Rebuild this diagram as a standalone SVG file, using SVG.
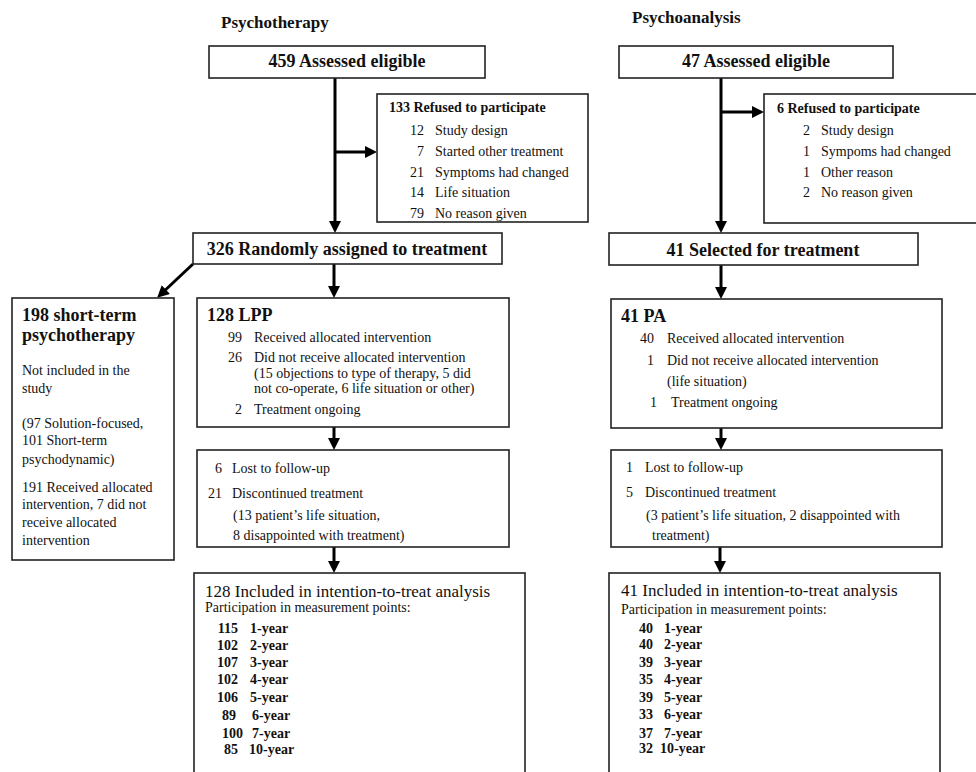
<svg xmlns="http://www.w3.org/2000/svg" width="976" height="772" viewBox="0 0 976 772">
<defs>
<marker id="ah" viewBox="0 0 12 12" markerWidth="12" markerHeight="12" refX="8" refY="6" orient="auto" markerUnits="userSpaceOnUse">
<path d="M0,0 L12,6 L0,12 z" fill="#000"/>
</marker>
<style>
text{font-family:"Liberation Serif","Times New Roman",serif;fill:#111}
.box{fill:#fff;stroke:#222;stroke-width:1.6}
.t{font-size:17px;font-weight:bold}
.h{font-size:18px;font-weight:bold}
.hs{font-size:14px;font-weight:bold}
.b{font-size:14px}
.it{font-size:17px}
.y{font-size:14px;font-weight:bold}
.n{text-anchor:end}
.c{text-anchor:middle}
.ln{stroke:#000;stroke-width:3;fill:none}
.ar{stroke:#000;stroke-width:3;fill:none;marker-end:url(#ah)}
</style>
</defs>
<rect width="976" height="772" fill="#fff"/>

<text class="t" x="221" y="28">Psychotherapy</text>
<text class="t" x="632" y="23">Psychoanalysis</text>

<g id="connectors">
<line class="ln" x1="335" y1="78" x2="335" y2="152"/>
<line class="ar" x1="335" y1="152" x2="335" y2="229"/>
<line class="ar" x1="335" y1="152" x2="373" y2="152"/>
<line class="ar" x1="193" y1="264" x2="160" y2="295"/>
<line class="ar" x1="334" y1="264" x2="334" y2="294"/>
<line class="ar" x1="334" y1="427" x2="334" y2="446"/>
<line class="ar" x1="334" y1="547" x2="334" y2="569"/>
<line class="ln" x1="721" y1="78" x2="721" y2="112"/>
<line class="ar" x1="721" y1="112" x2="721" y2="229"/>
<line class="ar" x1="721" y1="112" x2="760" y2="112"/>
<line class="ar" x1="721" y1="265" x2="721" y2="295"/>
<line class="ar" x1="721" y1="428" x2="721" y2="446"/>
<line class="ar" x1="720" y1="547" x2="720" y2="569"/>
</g>

<g id="pt-eligible">
<rect class="box" x="209" y="46" width="276" height="32"/>
<text class="h c" x="347" y="67">459 Assessed eligible</text>
</g>

<g id="pt-refused">
<rect class="box" x="377" y="94" width="211" height="128"/>
<text class="hs" x="389" y="112">133 Refused to participate</text>
<text class="b n" x="424" y="135">12</text><text class="b" x="435" y="135">Study design</text>
<text class="b n" x="424" y="156">7</text><text class="b" x="435" y="156">Started other treatment</text>
<text class="b n" x="424" y="177">21</text><text class="b" x="435" y="177">Symptoms had changed</text>
<text class="b n" x="424" y="197">14</text><text class="b" x="435" y="197">Life situation</text>
<text class="b n" x="424" y="218">79</text><text class="b" x="435" y="218">No reason given</text>
</g>

<g id="pt-random">
<rect class="box" x="193" y="233" width="309" height="31"/>
<text class="h c" x="347" y="255">326 Randomly assigned to treatment</text>
</g>

<g id="pt-short">
<rect class="box" x="12" y="298" width="162" height="262"/>
<text class="h" x="22" y="321">198 short-term</text>
<text class="h" x="22" y="341">psychotherapy</text>
<text class="b" x="22" y="375">Not included in the</text>
<text class="b" x="22" y="393">study</text>
<text class="b" x="22" y="428">(97 Solution-focused,</text>
<text class="b" x="22" y="445">101 Short-term</text>
<text class="b" x="22" y="464">psychodynamic)</text>
<text class="b" x="22" y="492">191  Received allocated</text>
<text class="b" x="22" y="509">intervention, 7 did not</text>
<text class="b" x="22" y="527">receive allocated</text>
<text class="b" x="22" y="545">intervention</text>
</g>

<g id="pt-lpp">
<rect class="box" x="197" y="298" width="312" height="129"/>
<text class="h" x="207" y="321">128 LPP</text>
<text class="b n" x="242" y="342">99</text><text class="b" x="254" y="342">Received allocated intervention</text>
<text class="b n" x="242" y="362">26</text><text class="b" x="254" y="362">Did not receive allocated intervention</text>
<text class="b" x="254" y="378">(15 objections to type of therapy, 5 did</text>
<text class="b" x="254" y="393">not co-operate, 6 life situation or other)</text>
<text class="b n" x="242" y="414">2</text><text class="b" x="254" y="414">Treatment ongoing</text>
</g>

<g id="pt-followup">
<rect class="box" x="197" y="450" width="312" height="97"/>
<text class="b n" x="222" y="473">6</text><text class="b" x="232" y="473">Lost to follow-up</text>
<text class="b n" x="222" y="498">21</text><text class="b" x="232" y="498">Discontinued treatment</text>
<text class="b" x="233" y="520">(13 patient’s life situation,</text>
<text class="b" x="233" y="540">8 disappointed with treatment)</text>
</g>

<g id="pt-itt">
<rect class="box" x="194" y="573" width="331" height="210"/>
<text class="it" x="205" y="597">128 Included in intention-to-treat analysis</text>
<text class="b" x="205" y="612">Participation in measurement points:</text>
<text class="y n" x="238" y="633">115</text><text class="y" x="250" y="633">1-year</text>
<text class="y n" x="238" y="650">102</text><text class="y" x="250" y="650">2-year</text>
<text class="y n" x="238" y="667">107</text><text class="y" x="250" y="667">3-year</text>
<text class="y n" x="238" y="684">102</text><text class="y" x="250" y="684">4-year</text>
<text class="y n" x="238" y="702">106</text><text class="y" x="250" y="702">5-year</text>
<text class="y n" x="236" y="720">89</text><text class="y" x="252" y="720">6-year</text>
<text class="y n" x="243" y="738">100</text><text class="y" x="252" y="738">7-year</text>
<text class="y n" x="238" y="754">85</text><text class="y" x="249" y="754">10-year</text>
</g>

<g id="pa-eligible">
<rect class="box" x="619" y="46" width="274" height="32"/>
<text class="h c" x="756" y="67">47 Assessed eligible</text>
</g>

<g id="pa-refused">
<rect class="box" x="764" y="94" width="230" height="129"/>
<text class="hs" x="777" y="113">6 Refused to participate</text>
<text class="b n" x="810" y="135">2</text><text class="b" x="821" y="135">Study design</text>
<text class="b n" x="810" y="156">1</text><text class="b" x="821" y="156">Sympoms had changed</text>
<text class="b n" x="810" y="177">1</text><text class="b" x="821" y="177">Other reason</text>
<text class="b n" x="810" y="197">2</text><text class="b" x="821" y="197">No reason given</text>
</g>

<g id="pa-selected">
<rect class="box" x="609" y="233" width="309" height="32"/>
<text class="h c" x="763" y="256">41 Selected for treatment</text>
</g>

<g id="pa-pa">
<rect class="box" x="611" y="299" width="331" height="129"/>
<text class="h" x="621" y="322">41 PA</text>
<text class="b n" x="654" y="343">40</text><text class="b" x="667" y="343">Received allocated intervention</text>
<text class="b n" x="654" y="365">1</text><text class="b" x="667" y="365">Did not receive allocated intervention</text>
<text class="b" x="667" y="386">(life situation)</text>
<text class="b n" x="657" y="407">1</text><text class="b" x="671" y="407">Treatment ongoing</text>
</g>

<g id="pa-followup">
<rect class="box" x="611" y="450" width="331" height="97"/>
<text class="b n" x="633" y="472">1</text><text class="b" x="645" y="472">Lost to follow-up</text>
<text class="b n" x="633" y="497">5</text><text class="b" x="645" y="497">Discontinued treatment</text>
<text class="b" x="646" y="520">(3 patient’s life situation, 2 disappointed with</text>
<text class="b" x="652" y="540">treatment)</text>
</g>

<g id="pa-itt">
<rect class="box" x="609" y="573" width="331" height="210"/>
<text class="it" x="621" y="596">41 Included in intention-to-treat analysis</text>
<text class="b" x="621" y="614">Participation in measurement points:</text>
<text class="y n" x="653" y="633">40</text><text class="y" x="664" y="633">1-year</text>
<text class="y n" x="653" y="649">40</text><text class="y" x="664" y="649">2-year</text>
<text class="y n" x="653" y="667">39</text><text class="y" x="664" y="667">3-year</text>
<text class="y n" x="653" y="684">35</text><text class="y" x="664" y="684">4-year</text>
<text class="y n" x="653" y="702">39</text><text class="y" x="664" y="702">5-year</text>
<text class="y n" x="653" y="719">33</text><text class="y" x="664" y="719">6-year</text>
<text class="y n" x="653" y="738">37</text><text class="y" x="664" y="738">7-year</text>
<text class="y n" x="653" y="753">32</text><text class="y" x="660" y="753">10-year</text>
</g>
</svg>
